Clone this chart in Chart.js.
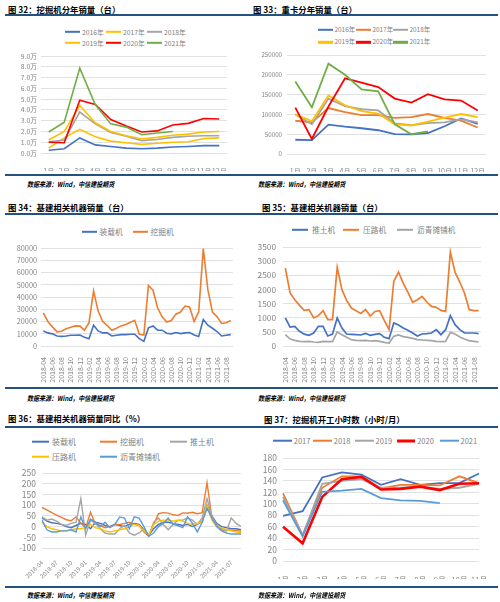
<!DOCTYPE html>
<html><head><meta charset="utf-8">
<script src="https://cdn.jsdelivr.net/npm/chart.js@4.4.1/dist/chart.umd.min.js"></script>
<style>
html,body{margin:0;padding:0;background:#fff;}
body{width:500px;height:602px;position:relative;overflow:hidden;font-family:"Noto Sans CJK SC","Noto Sans",sans-serif;}
.abs{position:absolute;white-space:nowrap;}
.ttl{font-weight:bold;font-size:8.4px;color:#000;transform:translateY(-50%);line-height:1;}
.src{font-weight:bold;font-style:italic;font-size:7px;color:#000;transform:translateY(-50%) scaleX(0.86);transform-origin:left center;line-height:1;}
.rule{background:#24527F;height:2px;}
.lgt{color:#7f7f7f;transform:translateY(-50%);line-height:1;}
.lgs{transform:translateY(-50%);}
canvas{position:absolute;}
</style></head><body>
<script>
// ---------- categories / tick labels ----------
const months12 = ['1月','2月','3月','4月','5月','6月','7月','8月','9月','10月','11月','12月'];
const months11 = ['1月','2月','3月','4月','5月','6月','7月','8月','9月','10月','11月'];
const ym42 = ['2018-04','2018-05','2018-06','2018-07','2018-08','2018-09','2018-10','2018-11','2018-12',
  '2019-01','2019-02','2019-03','2019-04','2019-05','2019-06','2019-07','2019-08','2019-09','2019-10','2019-11','2019-12',
  '2020-01','2020-02','2020-03','2020-04','2020-05','2020-06','2020-07','2020-08','2020-09','2020-10','2020-11','2020-12',
  '2021-01','2021-02','2021-03','2021-04','2021-05','2021-06','2021-07','2021-08','2021-09'];

// ---------- 图32 挖掘机分年销量（万台） ----------
const exc2016 = [0.25,0.4,1.4,0.75,0.6,0.45,0.4,0.45,0.55,0.6,0.68,0.68];
const exc2017 = [0.45,1.4,2.2,1.5,1.1,0.95,0.8,0.9,1.0,1.05,1.35,1.4];
const exc2018 = [1.05,1.2,3.8,2.7,1.9,1.55,1.15,1.25,1.45,1.55,1.6,1.6];
const exc2019 = [1.2,2.0,4.4,2.8,2.0,1.6,1.3,1.45,1.65,1.75,1.95,2.0];
const exc2020 = [1.0,0.95,4.9,4.5,3.1,2.5,1.95,2.05,2.6,2.75,3.2,3.15];
const exc2021 = [1.95,2.85,7.87,4.5,2.7,2.4,1.7,1.85,2.0];

// ---------- 图33 重卡分年销量 ----------
const truck2016 = [36000,35000,74000,69000,65000,60000,50000,49500,53000,70000,90000,76000];
const truck2017 = [84000,80000,116000,106000,98000,98000,91000,93000,101000,91000,84000,67000];
const truck2018 = [100000,75000,140000,121000,113000,110000,77000,73000,78000,80000,88000,80000];
const truck2019 = [100000,83000,148000,123000,108000,102000,75000,72000,82000,92000,101000,93000];
const truck2020 = [117000,38000,120000,191000,180000,169000,140000,130000,151000,138000,135000,110000];
const truck2021 = [183000,118000,228000,200000,163000,158000,75000,50000,57000];

// ---------- 图34 基建相关机器销量 ----------
const loaderSales = [12300,10700,9900,8200,7900,8200,8800,8800,9000,7100,6000,17000,12300,10700,10700,8200,8800,9300,9300,9600,9600,
  6000,3800,14800,16400,12900,12900,10400,9900,11000,10100,10700,11000,9000,7700,21600,17000,14500,11800,8200,8800,9300];
const excavatorSales = [27000,20000,15600,11500,12000,14000,15300,16400,16200,12900,19000,44900,28500,20000,16700,12900,14500,16400,17500,19200,21000,
  9600,9000,49400,45500,31200,23800,19500,20800,26000,27700,32600,31800,20000,28000,79500,46000,27700,24000,18400,19000,20800];

// ---------- 图35 基建相关机器销量 ----------
const bulldozerSales = [990,670,695,520,420,377,460,695,695,353,424,990,636,424,412,400,389,448,377,412,436,
  306,259,813,742,636,554,460,353,424,436,460,577,400,577,1072,754,577,460,460,460,436];
const rollerSales = [2756,1873,1637,1437,1260,1284,990,1072,1249,930,930,2780,1990,1614,1343,1249,1150,1290,1060,1220,1250,
  900,580,2285,2615,2226,1897,1543,1637,1755,1555,1400,1367,1260,1225,3322,2603,2262,1873,1284,1250,1250];
const paverSales = [400,247,200,165,153,165,141,130,165,153,153,495,400,306,224,200,188,200,177,188,165,
  130,106,342,389,330,306,271,224,212,200,188,165,153,165,483,424,318,247,188,165,141];

// ---------- 图36 基建相关机器销量同比（%） ----------
const yoyLoader = [40,25,18,15,10,0,-5,5,15,10,-10,20,15,5,0,10,5,0,10,15,10,-15,-40,-10,10,20,20,15,10,5,10,0,10,25,100,50,15,0,-5,-10,-10,-15];
const yoyExcavator = [89,78,65,53,43,32,27,45,15,-5,67,12,5,-5,0,10,10,15,20,10,5,-25,-45,10,60,65,63,55,52,64,62,67,60,65,205,40,5,-10,-15,-17,-18,-22];
const yoyBulldozer = [45,30,35,25,10,5,15,20,130,-40,30,15,-10,-30,-35,-35,-10,5,-30,-40,-30,-10,-40,20,40,10,-15,10,30,30,40,30,10,40,130,50,5,-15,-20,40,15,0];
const yoyRoller = [20,0,-10,-15,-20,-20,-15,-10,-10,-5,10,-5,-10,-20,-25,-20,-15,-10,0,10,5,-20,-40,10,25,30,30,25,30,25,15,10,15,20,100,30,0,-5,-15,-20,-25,-30];
const yoyPaver = [30,-15,-25,-25,-20,-20,-15,-25,45,-10,35,20,0,20,-5,10,45,40,-10,45,40,0,-45,-30,0,15,40,10,5,-5,45,15,-25,20,85,40,0,-20,-30,-35,-35,-35];

// ---------- 图37 挖掘机开工小时数 ----------
const hours2017 = [79,87,146,155,151,133,143,133,136,136,153];
const hours2018 = [118,45,128,148,148,127,133,133,132,148,136];
const hours2019 = [112,45,135,140,143,128,128,130,126,128,135];
const hours2020 = [60,31,112,143,147,125,126,130,124,135,136];
const hours2021 = [106,43,121,123,126,110,106,105,101];

// ---------- styling ----------
const BLUE='#4472C4', ORANGE='#ED7D31', GRAY='#A5A5A5', GOLD='#FFC000', LBLUE='#5B9BD5', GREEN='#70AD47', RED='#FF0000';
const TC='#858585', GC='#D9D9D9';
Chart.defaults.font.family = '"Noto Sans CJK SC","Noto Sans",sans-serif';
Chart.defaults.color = TC;

function el(cls, style, text) {
  const d = document.createElement('div');
  d.className = cls;
  for (const k in style) d.style[k] = (typeof style[k] === 'number') ? style[k] + 'px' : style[k];
  if (text !== undefined) d.textContent = text;
  document.body.appendChild(d);
  return d;
}
function title(x, y, text) { el('abs ttl', {left: x, top: y}, text); }
function rule(x, y, w) { el('abs rule', {left: x, top: y, width: w}); }
function source(x, y) { el('abs src', {left: x, top: y}, '数据来源：Wind，中信建投期货'); }
function legend(series, pos, o) {
  series.forEach((s, k) => {
    const [x, y] = pos[k];
    el('abs lgs', {left: x, top: y, width: o.sw, height: s.lw || o.lw, background: s.color});
    el('abs lgt', {left: x + o.sw + o.gap, top: y, fontSize: o.fs}, s.name);
  });
}
// cfg gives the wanted plot box (pLeft,pRight,pTop,pBottom) and the axis sizes
function lineChart(cfg) {
  const topPad = cfg.yfs * 0.6 + cfg.ypad;            // room Chart.js keeps for half the top y label
  const l = cfg.pLeft - cfg.yw;
  const t = Math.floor(cfg.pTop - topPad);
  const pt = cfg.pTop - t;
  const h = Math.ceil(cfg.pBottom + cfg.xh - t);
  const xh = t + h - cfg.pBottom;
  const w = Math.ceil(cfg.pRight + cfg.pr - l);
  const pr = l + w - cfg.pRight;
  const c = document.createElement('canvas');
  c.width = w; c.height = h;
  c.style.left = l + 'px'; c.style.top = t + 'px';
  c.style.width = w + 'px'; c.style.height = h + 'px';
  document.body.appendChild(c);
  const n = cfg.series.length;
  new Chart(c, {
    type: 'line',
    data: {
      labels: cfg.labels,
      datasets: cfg.series.map((s, i) => ({
        label: s.name, data: s.data, borderColor: s.color, backgroundColor: s.color,
        borderWidth: s.width || cfg.lw, pointRadius: 0, pointHoverRadius: 0, tension: 0, fill: false,
        order: n - i
      }))
    },
    options: {
      responsive: false, animation: false, events: [],
      layout: {padding: {top: pt, right: pr, left: 0, bottom: 0}},
      plugins: {legend: {display: false}, tooltip: {enabled: false}},
      scales: {
        x: {
          type: 'category', offset: cfg.offset,
          grid: {display: false}, border: {display: false},
          ticks: {
            autoSkip: false, maxRotation: cfg.rot, minRotation: cfg.rot, padding: cfg.xpad,
            color: TC, font: {size: cfg.xfs},
            callback: function (v, i) { return i % cfg.every === 0 ? this.getLabelForValue(v) : ''; }
          },
          afterFit: s => { s.height = xh; }
        },
        y: {
          min: cfg.min, max: cfg.max,
          grid: {color: GC, lineWidth: 0.8, drawTicks: false}, border: {display: false},
          ticks: {autoSkip: false, stepSize: cfg.step, padding: cfg.ypad, color: TC, font: {size: cfg.yfs}, callback: cfg.fmt},
          afterFit: s => { s.width = cfg.yw; }
        }
      }
    }
  });
}

// ================= 图32 =================
const p1Series = [
  {name:'2016年', data: exc2016, color: BLUE},
  {name:'2017年', data: exc2017, color: GOLD},
  {name:'2018年', data: exc2018, color: GRAY},
  {name:'2019年', data: exc2019, color: GOLD},
  {name:'2020年', data: exc2020, color: RED},
  {name:'2021年', data: exc2021, color: GREEN}
];
title(8, 8.5, '图 32：挖掘机分年销量（台）');
rule(5, 14, 245);
legend(p1Series, [[65,31.7],[106,31.7],[147,31.7],[65,42.7],[106,42.7],[147,42.7]], {sw:15, lw:2.4, gap:2, fs:6.8});
lineChart({pLeft:41, pRight:227, pTop:56, pBottom:153, yw:38, xh:18, pr:8, labels: months12, series: p1Series,
  offset:true, rot:0, every:1, xpad:5.5, xfs:7.2, yfs:6.8, ypad:4, min:0, max:9, step:1, lw:1.6,
  fmt: v => v.toFixed(1) + '万'});
rule(5, 174, 245);
source(27, 184.3);

// ================= 图33 =================
const p2Series = [
  {name:'2016年', data: truck2016, color: BLUE},
  {name:'2017年', data: truck2017, color: ORANGE},
  {name:'2018年', data: truck2018, color: GRAY},
  {name:'2019年', data: truck2019, color: GOLD},
  {name:'2020年', data: truck2020, color: RED},
  {name:'2021年', data: truck2021, color: GREEN}
];
title(253, 8.5, '图 33：重卡分年销量（台）');
rule(250, 14, 248);
legend(p2Series, [[318,30],[356,30],[393,30],[318,42.3],[356,42.3],[393,42.3]], {sw:15, lw:2.4, gap:1.5, fs:6.4});
lineChart({pLeft:287, pRight:486, pTop:55, pBottom:154, yw:35, xh:18, pr:8, labels: months12, series: p2Series,
  offset:true, rot:0, every:1, xpad:5, xfs:7, yfs:6.2, ypad:5, min:0, max:250000, step:50000, lw:1.8,
  fmt: v => String(v)});
rule(250, 174, 248);
source(258, 183.5);

// ================= 图34 =================
const p3Series = [
  {name:'装载机', data: loaderSales, color: BLUE},
  {name:'挖掘机', data: excavatorSales, color: ORANGE}
];
title(8, 206.7, '图 34：基建相关机器销量（台）');
rule(5, 213, 245);
legend(p3Series, [[82,231.7],[133,231.7]], {sw:15, lw:2.4, gap:2.5, fs:7.8});
lineChart({pLeft:41, pRight:233, pTop:248, pBottom:346, yw:37, xh:40, pr:12, labels: ym42, series: p3Series,
  offset:true, rot:90, every:2, xpad:3, xfs:7, yfs:7.3, ypad:4, min:0, max:80000, step:10000, lw:1.6,
  fmt: v => String(v)});
rule(5, 387, 245);
source(27, 398);

// ================= 图35 =================
const p4Series = [
  {name:'推土机', data: bulldozerSales, color: BLUE},
  {name:'压路机', data: rollerSales, color: ORANGE},
  {name:'沥青摊铺机', data: paverSales, color: GRAY}
];
title(262, 206.7, '图 35：基建相关机器销量（台）');
rule(250, 213, 248);
legend(p4Series, [[292,230],[343,230],[397,230]], {sw:16, lw:2.4, gap:4, fs:7.7});
lineChart({pLeft:283, pRight:481, pTop:247, pBottom:346, yw:35, xh:40, pr:12, labels: ym42, series: p4Series,
  offset:true, rot:90, every:2, xpad:3, xfs:7, yfs:8.3, ypad:7, min:0, max:3500, step:500, lw:1.7,
  fmt: v => String(v)});
rule(250, 387, 248);
source(258, 397.7);

// ================= 图36 =================
const p5Series = [
  {name:'装载机', data: yoyLoader, color: BLUE},
  {name:'挖掘机', data: yoyExcavator, color: ORANGE},
  {name:'推土机', data: yoyBulldozer, color: GRAY},
  {name:'压路机', data: yoyRoller, color: GOLD},
  {name:'沥青摊铺机', data: yoyPaver, color: LBLUE}
];
title(8, 418.3, '图 36：基建相关机器销量同比（%）');
rule(5, 425.5, 245);
legend(p5Series, [[32,441.7],[100,441.7],[170,441.7],[32,456.7],[100,456.7]], {sw:17, lw:2.6, gap:3, fs:8});
lineChart({pLeft:42, pRight:241, pTop:473, pBottom:548, yw:38, xh:34, pr:10, labels: ym42, series: p5Series,
  offset:false, rot:45, every:3, xpad:3, xfs:6, yfs:8.5, ypad:6, min:-100, max:250, step:50, lw:1.4,
  fmt: v => String(v)});
rule(5, 585.5, 245);
source(27, 595);

// ================= 图37 =================
const p6Series = [
  {name:'2017', data: hours2017, color: BLUE},
  {name:'2018', data: hours2018, color: ORANGE},
  {name:'2019', data: hours2019, color: GRAY},
  {name:'2020', data: hours2020, color: RED, width: 2.6, lw: 3},
  {name:'2021', data: hours2021, color: LBLUE}
];
title(264, 419, '图 37：挖掘机开工小时数（小时/月）');
rule(250, 425.5, 248);
legend(p6Series, [[273.3,440.7],[313.3,440.7],[355,440.7],[396.7,440.7],[440,440.7]], {sw:18.5, lw:2.6, gap:2, fs:7.5});
lineChart({pLeft:283, pRight:479, pTop:458, pBottom:561, yw:35, xh:18, pr:16, labels: months11, series: p6Series,
  offset:false, rot:0, every:1, xpad:6, xfs:7.8, yfs:8.5, ypad:6, min:0, max:180, step:20, lw:1.8,
  fmt: v => String(v)});
rule(250, 585.5, 248);
source(258, 595);
</script>
</body></html>
